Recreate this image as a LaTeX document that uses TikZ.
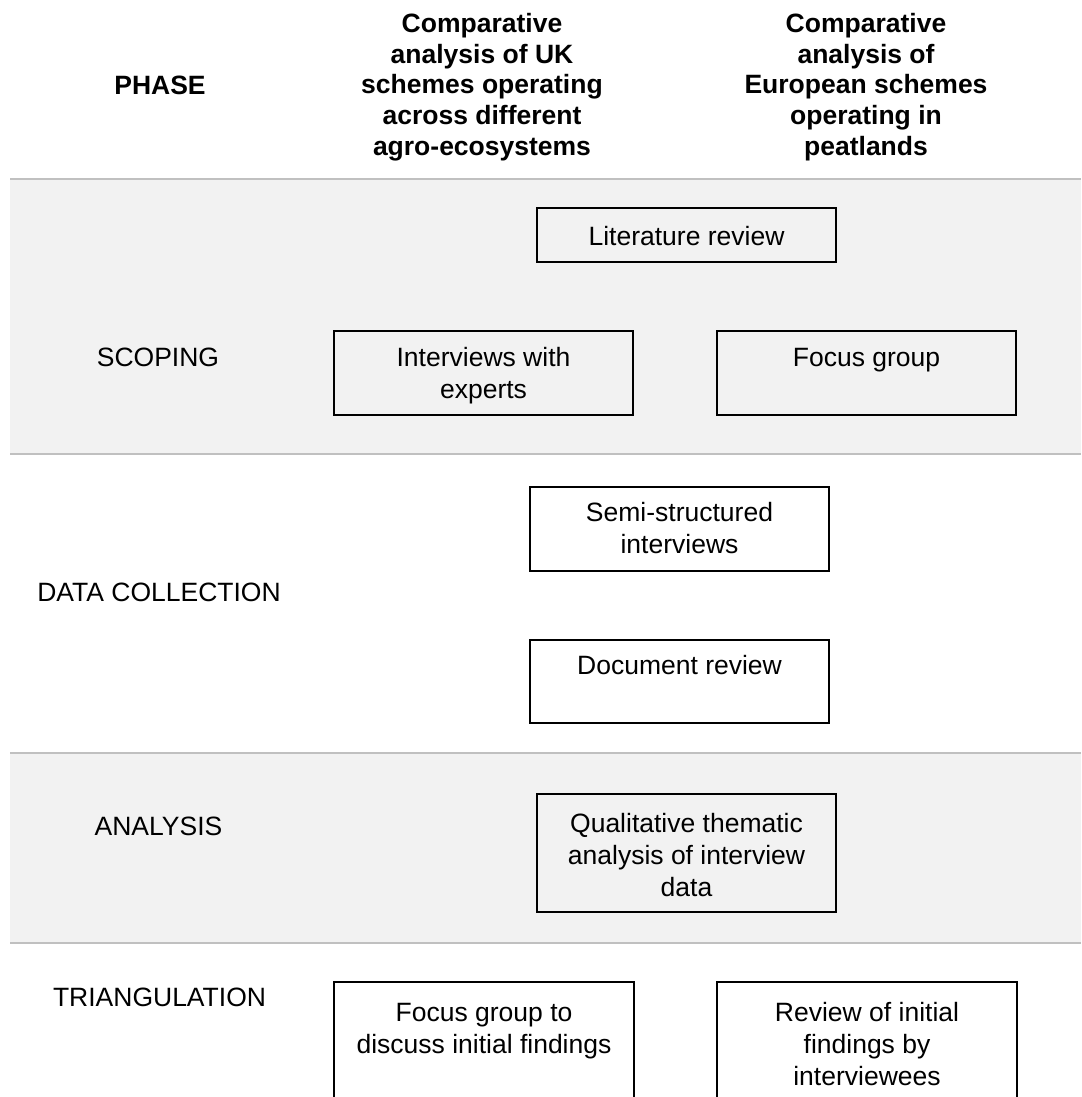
\documentclass[tikz,border=0pt]{standalone}
\usepackage{fontspec}
\setmainfont{Liberation Sans}
\definecolor{bandgray}{RGB}{242,242,242}
\definecolor{rulegray}{RGB}{192,192,192}
\begin{document}
\begin{tikzpicture}[x=1pt,y=-1pt,
  box/.style={draw=black,line width=2pt,inner sep=0pt,minimum width=299pt},
  txt/.style={font=\fontsize{26.5}{32}\selectfont,align=center,inner sep=0pt,anchor=north},
  hdr/.style={font=\fontsize{26.5}{30.7}\selectfont\bfseries,align=center,inner sep=0pt},
  phaselbl/.style={font=\fontsize{26.5}{32}\selectfont,inner sep=0pt},
  rulel/.style={draw=rulegray,line width=1.5pt}]
\useasboundingbox (0,0) rectangle (1081,1097);
\clip (0,0) rectangle (1081,1097);
% bands
\fill[bandgray] (10,179) rectangle (1081,454);
\fill[bandgray] (10,753) rectangle (1081,943);
\coordinate (r1a) at (10,179); \coordinate (r1b) at (1081,179);
\coordinate (r2a) at (10,454); \coordinate (r2b) at (1081,454);
\coordinate (r3a) at (10,753); \coordinate (r3b) at (1081,753);
\coordinate (r4a) at (10,943); \coordinate (r4b) at (1081,943);
\draw[rulel] (r1a) -- (r1b);
\draw[rulel] (r2a) -- (r2b);
\draw[rulel] (r3a) -- (r3b);
\draw[rulel] (r4a) -- (r4b);
% headers
\node[hdr] (hphase) at (160,85) {PHASE};
\node[hdr] (hcol1) at (482,87) {Comparative\\analysis of UK\\schemes operating\\across different\\agro-ecosystems};
\node[hdr] (hcol2) at (866,87) {Comparative\\analysis of\\European schemes\\operating in\\peatlands};
% phase labels
\node[phaselbl] (pscope) at (158,357) {SCOPING};
\node[phaselbl] (pdata) at (159,592) {DATA COLLECTION};
\node[phaselbl] (panal) at (158.5,826) {ANALYSIS};
\node[phaselbl] (ptri) at (159.5,997) {TRIANGULATION};
% boxes
\node[box,minimum height=54pt] (lit) at (686.5,235) {};
\node[txt] (litT) at (686.5,222.6) {\strut Literature review};
\node[box,minimum height=84pt] (intv) at (483.5,373) {};
\node[txt] (intvT) at (483.5,343.6) {\strut Interviews with\\experts};
\node[box,minimum height=84pt] (fg) at (866.5,373) {};
\node[txt] (fgT) at (866.5,343.6) {\strut Focus group};
\node[box,minimum height=84pt] (semi) at (679.5,529) {};
\node[txt] (semiT) at (679.5,498.6) {\strut Semi-structured\\interviews};
\node[box,minimum height=83pt] (doc) at (679.5,681.5) {};
\node[txt] (docT) at (679.5,651.6) {\strut Document review};
\node[box,minimum height=118pt] (qual) at (686.5,853) {};
\node[txt] (qualT) at (686.5,809.6) {\strut Qualitative thematic\\analysis of interview\\data};
\node[box,minimum width=300pt,minimum height=138pt] (fgd) at (484,1051) {};
\node[txt] (fgdT) at (484,998.6) {\strut Focus group to\\discuss initial findings};
\node[box,minimum width=300pt,minimum height=138pt] (rev) at (867,1051) {};
\node[txt] (revT) at (867,998.6) {\strut Review of initial\\findings by\\interviewees};
\end{tikzpicture}
\end{document}
